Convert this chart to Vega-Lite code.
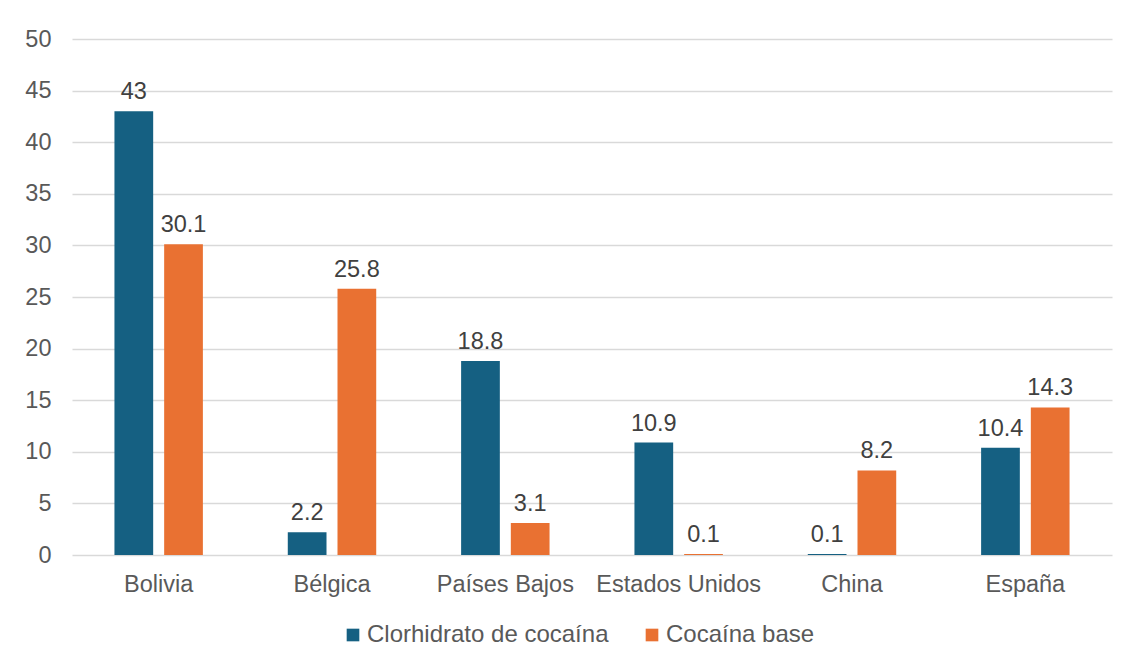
{
  "$schema": "https://vega.github.io/schema/vega-lite/v6.json",
  "width": 1040,
  "height": 516,
  "autosize": {"type": "none"},
  "padding": {"left": 72, "top": 39, "right": 19, "bottom": 109},
  "background": "white",
  "data": {
    "values": [
      {"pais": "Bolivia", "tipo": "Clorhidrato de cocaína", "valor": 43},
      {"pais": "Bolivia", "tipo": "Cocaína base", "valor": 30.1},
      {"pais": "Bélgica", "tipo": "Clorhidrato de cocaína", "valor": 2.2},
      {"pais": "Bélgica", "tipo": "Cocaína base", "valor": 25.8},
      {"pais": "Países Bajos", "tipo": "Clorhidrato de cocaína", "valor": 18.8},
      {"pais": "Países Bajos", "tipo": "Cocaína base", "valor": 3.1},
      {"pais": "Estados Unidos", "tipo": "Clorhidrato de cocaína", "valor": 10.9},
      {"pais": "Estados Unidos", "tipo": "Cocaína base", "valor": 0.1},
      {"pais": "China", "tipo": "Clorhidrato de cocaína", "valor": 0.1},
      {"pais": "China", "tipo": "Cocaína base", "valor": 8.2},
      {"pais": "España", "tipo": "Clorhidrato de cocaína", "valor": 10.4},
      {"pais": "España", "tipo": "Cocaína base", "valor": 14.3}
    ]
  },
  "encoding": {
    "x": {
      "field": "pais",
      "type": "nominal",
      "sort": null,
      "scale": {"paddingInner": 0, "paddingOuter": 0},
      "axis": {
        "title": null,
        "labelAngle": 0,
        "domain": false,
        "ticks": false,
        "labelPadding": 17,
        "labelFont": "Liberation Sans",
        "labelFontSize": 23.5,
        "labelColor": "#595959"
      }
    },
    "xOffset": {
      "field": "tipo",
      "type": "nominal",
      "sort": null,
      "scale": {"paddingInner": 0.221, "paddingOuter": 0.854}
    },
    "y": {
      "field": "valor",
      "type": "quantitative",
      "scale": {"domain": [0, 50], "nice": false},
      "axis": {
        "title": null,
        "values": [0, 5, 10, 15, 20, 25, 30, 35, 40, 45, 50],
        "domain": false,
        "ticks": false,
        "labelPadding": 21,
        "labelFont": "Liberation Sans",
        "labelFontSize": 23.5,
        "labelColor": "#595959",
        "gridColor": "#d9d9d9",
        "gridWidth": 1.3
      }
    }
  },
  "layer": [
    {
      "mark": {"type": "bar"},
      "encoding": {
        "color": {
          "field": "tipo",
          "type": "nominal",
          "sort": null,
          "scale": {
            "domain": ["Clorhidrato de cocaína", "Cocaína base"],
            "range": ["#156082", "#E97132"]
          },
          "legend": {
            "title": null,
            "orient": "none",
            "direction": "horizontal",
            "legendX": 269,
            "legendY": 584,
            "symbolType": "square",
            "symbolSize": 160,
            "symbolStrokeWidth": 0,
            "labelOffset": 2,
            "columnPadding": 31,
            "labelFont": "Liberation Sans",
            "labelFontSize": 24,
            "labelColor": "#595959",
            "labelLimit": 400
          }
        }
      }
    },
    {
      "mark": {
        "type": "text",
        "baseline": "bottom",
        "dy": -7,
        "font": "Liberation Sans",
        "fontSize": 23.5,
        "color": "#404040"
      },
      "encoding": {
        "text": {"field": "valor", "type": "quantitative"}
      }
    }
  ],
  "config": {
    "view": {"stroke": null}
  }
}
